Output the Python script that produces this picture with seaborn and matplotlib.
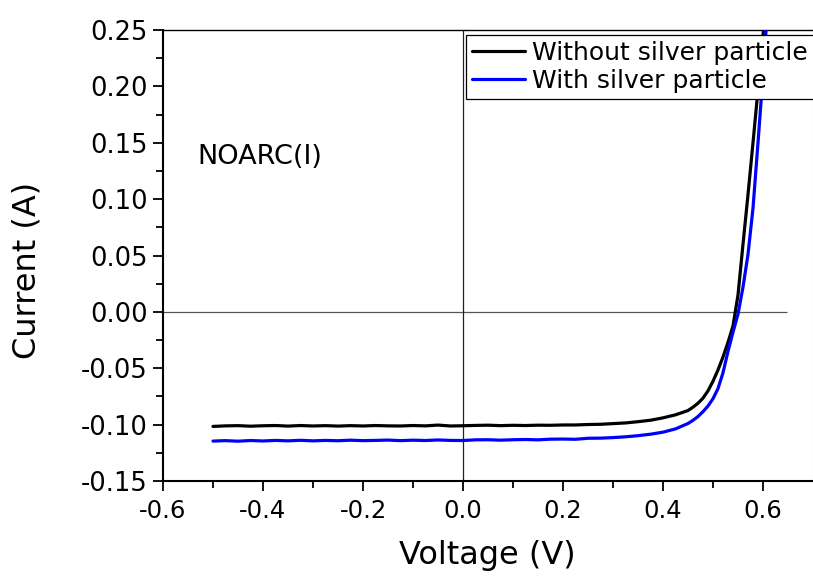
import matplotlib
matplotlib.use("Agg")
import matplotlib.pyplot as plt
import seaborn as sns
import pandas as pd

# I-V sweep (voltage in V, current in A)
voltage = [-0.500, -0.475, -0.450, -0.425, -0.400, -0.375, -0.350, -0.325,
           -0.300, -0.275, -0.250, -0.225, -0.200, -0.175, -0.150, -0.125,
           -0.100, -0.075, -0.050, -0.025, 0.000, 0.025, 0.050, 0.075,
           0.100, 0.125, 0.150, 0.175, 0.200, 0.225, 0.250, 0.275,
           0.300, 0.325, 0.350, 0.375, 0.400, 0.425, 0.450,
           0.460, 0.470, 0.480, 0.490, 0.500, 0.510, 0.520, 0.530,
           0.540, 0.550, 0.560, 0.570, 0.580, 0.590, 0.600, 0.610]

current_without = [-0.1016, -0.1011, -0.1009, -0.1014, -0.1010, -0.1008, -0.1013, -0.1008,
                   -0.1012, -0.1009, -0.1013, -0.1009, -0.1012, -0.1008, -0.1011, -0.1012,
                   -0.1008, -0.1011, -0.1004, -0.1012, -0.1010, -0.1007, -0.1005, -0.1009,
                   -0.1006, -0.1008, -0.1005, -0.1006, -0.1003, -0.1003, -0.0999, -0.0997,
                   -0.0991, -0.0985, -0.0974, -0.0961, -0.0940, -0.0913, -0.0875,
                   -0.0845, -0.0810, -0.0765, -0.0700, -0.0615, -0.0515, -0.0400, -0.0270,
                   -0.0125, 0.0150, 0.0600, 0.1040, 0.1500, 0.1970, 0.2450, 0.2950]

current_with = [-0.1146, -0.1142, -0.1147, -0.1141, -0.1145, -0.1140, -0.1144, -0.1139,
                -0.1144, -0.1140, -0.1143, -0.1138, -0.1142, -0.1140, -0.1137, -0.1142,
                -0.1138, -0.1141, -0.1136, -0.1140, -0.1141, -0.1135, -0.1134, -0.1138,
                -0.1134, -0.1132, -0.1135, -0.1129, -0.1128, -0.1130, -0.1121, -0.1120,
                -0.1115, -0.1108, -0.1098, -0.1085, -0.1067, -0.1038, -0.0990,
                -0.0962, -0.0928, -0.0885, -0.0835, -0.0770, -0.0680, -0.0540, -0.0350,
                -0.0180, -0.0020, 0.0220, 0.0510, 0.0920, 0.1500, 0.2100, 0.2750]

series_labels = ["Without silver particle", "With silver particle"]
series_colors = ["#000000", "#0000ff"]

x_ticks = [-0.6, -0.4, -0.2, 0.0, 0.2, 0.4, 0.6]
y_ticks = [-0.15, -0.10, -0.05, 0.00, 0.05, 0.10, 0.15, 0.20, 0.25]

df = pd.DataFrame({
    "Voltage": voltage * 2,
    "Current": current_without + current_with,
    "Sample": [series_labels[0]] * len(voltage) + [series_labels[1]] * len(voltage),
})

sns.set_theme(style="ticks")
plt.rcParams["font.family"] = ["DejaVu Sans"]
plt.rcParams["text.color"] = "black"
plt.rcParams["axes.labelcolor"] = "black"
plt.rcParams["xtick.color"] = "black"
plt.rcParams["ytick.color"] = "black"

fig = plt.figure(figsize=(8.13, 5.82), dpi=100)
ax = fig.add_axes([163 / 813, 101 / 582, 650 / 813, 451 / 582])

# zero reference lines
ax.hlines(0, -0.6, 0.648, color="#555555", lw=0.9, zorder=1)
ax.axvline(0, color="#222222", lw=0.9, zorder=1)

sns.lineplot(data=df, x="Voltage", y="Current", hue="Sample",
             palette=dict(zip(series_labels, series_colors)),
             hue_order=series_labels, sort=False, lw=2.3, ax=ax, zorder=3)

ax.set_xlim(-0.6, 0.7)
ax.set_ylim(-0.15, 0.25)
ax.set_xticks(x_ticks)
ax.set_xticklabels([f"{t:.1f}" for t in x_ticks])
ax.set_yticks(y_ticks)
ax.set_yticklabels([f"{t:.2f}" for t in y_ticks])
ax.set_xticks([-0.5, -0.3, -0.1, 0.1, 0.3, 0.5], minor=True)
ax.set_yticks([-0.125, -0.075, -0.025, 0.025, 0.075, 0.125, 0.175, 0.225], minor=True)

ax.tick_params(axis="both", which="major", direction="out", length=7, width=1.3,
               color="black", labelcolor="black")
ax.tick_params(axis="both", which="minor", direction="out", length=5, width=1.3, color="black")
ax.tick_params(axis="y", which="major", labelsize=18.5, pad=4)
ax.tick_params(axis="x", which="major", labelsize=17.5, pad=6)

for side in ["left", "bottom"]:
    ax.spines[side].set_linewidth(1.5)
    ax.spines[side].set_color("black")
ax.spines["top"].set_linewidth(1.0)
ax.spines["top"].set_color("black")
ax.spines["right"].set_linewidth(0.8)
ax.spines["right"].set_color("#d0d0d0")

ax.set_xlabel("Voltage (V)", fontsize=23, color="black")
ax.set_ylabel("Current (A)", fontsize=23, color="black")
ax.xaxis.set_label_coords(0.499, -0.131)
ax.yaxis.set_label_coords(-0.185, 0.466)

ax.text(-0.532, 0.137, "NOARC(I)", fontsize=19.5, color="black", ha="left", va="center")

leg = ax.legend(loc="upper left", bbox_to_anchor=(0.466, 0.989), borderaxespad=0,
                fontsize=18, frameon=True, fancybox=False, framealpha=1,
                edgecolor="black", borderpad=0.25, handlelength=2.1,
                handletextpad=0.3, labelspacing=0.15)
leg.get_frame().set_linewidth(0.9)
leg.set_zorder(5)
for line in leg.get_lines():
    line.set_linewidth(2.3)
for txt in leg.get_texts():
    txt.set_color("black")

fig.savefig("out.png", dpi=100)
